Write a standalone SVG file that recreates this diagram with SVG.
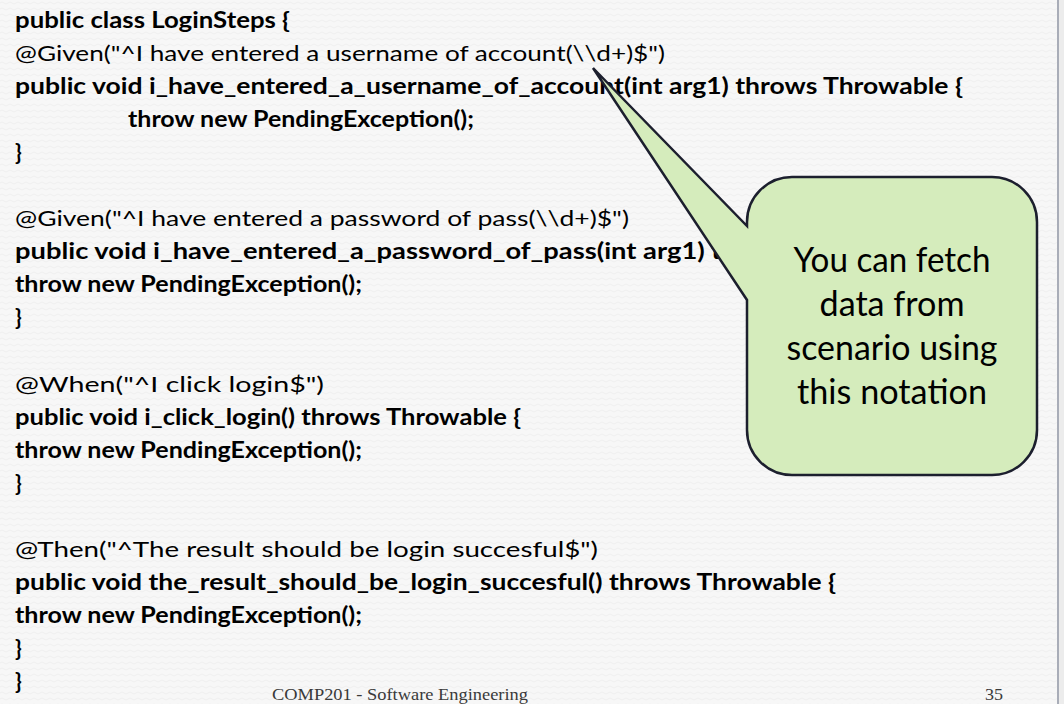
<svg xmlns="http://www.w3.org/2000/svg" width="1064" height="704" viewBox="0 0 1064 704">
  <defs>
    <pattern id="tex" width="8" height="6" patternUnits="userSpaceOnUse">
      <rect width="8" height="6" fill="#f7f7f7"/>
      <path d="M0,3 Q2,1 4,3 T8,3" fill="none" stroke="#efefef" stroke-width="1"/>
    </pattern>
  </defs>
  <style>
    .c { font-family: Lato, "Liberation Sans", sans-serif; font-size: 22px; fill: #000; }
    .b { font-weight: bold; }
    .ct { font-family: Lato, "Liberation Sans", sans-serif; font-size: 35px; fill: #000; text-anchor: middle; }
    .ft { font-family: "Liberation Serif", serif; font-size: 17px; fill: #3a3a3a; }
  </style>
  <rect x="0" y="0" width="1064" height="704" fill="url(#tex)"/>
  <rect x="1057" y="0" width="2" height="704" fill="#a9adb8"/>
  <rect x="1059" y="0" width="5" height="704" fill="#ececec"/>

  <g id="code">
    <text class="c b" x="15" y="27.5" textLength="275" lengthAdjust="spacingAndGlyphs">public class LoginSteps {</text>
    <text class="c" x="15" y="60.6" textLength="650" lengthAdjust="spacingAndGlyphs">@Given("^I have entered a username of account(\\d+)$")</text>
    <text class="c b" x="15" y="93.7" textLength="948" lengthAdjust="spacingAndGlyphs">public void i_have_entered_a_username_of_account(int arg1) throws Throwable {</text>
    <text class="c b" x="128" y="126.8" textLength="346" lengthAdjust="spacingAndGlyphs">throw new PendingException();</text>
    <text class="c b" x="15" y="159.9">}</text>

    <text class="c" x="15" y="226" textLength="614" lengthAdjust="spacingAndGlyphs">@Given("^I have entered a password of pass(\\d+)$")</text>
    <text class="c b" x="15" y="259.1" textLength="931" lengthAdjust="spacingAndGlyphs">public void i_have_entered_a_password_of_pass(int arg1) throws Throwable {</text>
    <text class="c b" x="15" y="292.2" textLength="347" lengthAdjust="spacingAndGlyphs">throw new PendingException();</text>
    <text class="c b" x="15" y="325.3">}</text>

    <text class="c" x="15" y="391.5" textLength="309" lengthAdjust="spacingAndGlyphs">@When("^I click login$")</text>
    <text class="c b" x="15" y="424.6" textLength="506" lengthAdjust="spacingAndGlyphs">public void i_click_login() throws Throwable {</text>
    <text class="c b" x="15" y="457.7" textLength="347" lengthAdjust="spacingAndGlyphs">throw new PendingException();</text>
    <text class="c b" x="15" y="490.8">}</text>

    <text class="c" x="15" y="557" textLength="583" lengthAdjust="spacingAndGlyphs">@Then("^The result should be login succesful$")</text>
    <text class="c b" x="15" y="590.1" textLength="821" lengthAdjust="spacingAndGlyphs">public void the_result_should_be_login_succesful() throws Throwable {</text>
    <text class="c b" x="15" y="623.2" textLength="347" lengthAdjust="spacingAndGlyphs">throw new PendingException();</text>
    <text class="c b" x="15" y="656.3">}</text>
    <text class="c b" x="15" y="689.4">}</text>
  </g>

  <g id="callout">
    <path d="M792,177 H992 A45,45 0 0 1 1037,222 V430 A45,45 0 0 1 992,475 H792 A45,45 0 0 1 747,430 V300 L593,68 L747,226 V222 A45,45 0 0 1 792,177 Z" fill="#d5ecbc" stroke="#1c1f2e" stroke-width="2.5" stroke-linejoin="miter"/>
    <text class="ct" x="892" y="272" textLength="197" lengthAdjust="spacingAndGlyphs">You can fetch</text>
    <text class="ct" x="892" y="316" textLength="145" lengthAdjust="spacingAndGlyphs">data from</text>
    <text class="ct" x="892" y="360" textLength="211" lengthAdjust="spacingAndGlyphs">scenario using</text>
    <text class="ct" x="892" y="404" textLength="190" lengthAdjust="spacingAndGlyphs">this notation</text>
  </g>

  <g id="footer">
    <text class="ft" x="272" y="700" textLength="256" lengthAdjust="spacingAndGlyphs">COMP201 - Software Engineering</text>
    <text class="ft" x="985" y="700" textLength="18" lengthAdjust="spacingAndGlyphs">35</text>
  </g>
</svg>
